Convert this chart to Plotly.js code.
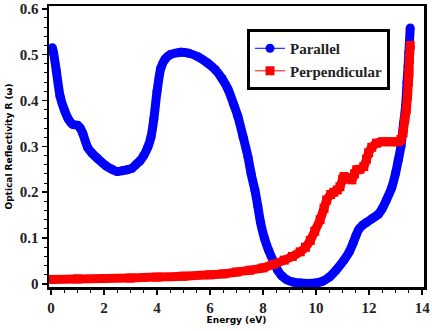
<!DOCTYPE html>
<html>
<head>
<meta charset="utf-8">
<script src="https://cdn.plot.ly/plotly-3.0.1.min.js"></script>
<style>html,body{margin:0;padding:0;background:#fff;}#chart{width:432px;height:331px;}</style>
</head>
<body>
<div id="chart"></div>
<script>
var parallelE = [0.05,0.1,0.2,0.34,0.5,0.65,0.82,1.0,1.1,1.2,1.38,1.55,1.75,2.09,2.3,2.5,2.7,2.87,3.05,3.2,3.35,3.5,3.65,3.77,3.88,4.0,4.14,4.3,4.5,4.9,5.2,5.56,5.9,6.2,6.45,6.68,6.9,7.05,7.25,7.43,7.55,7.69,7.8,7.9,8.05,8.2,8.4,8.55,8.7,8.9,9.15,9.4,9.7,10.0,10.25,10.5,10.75,11.05,11.25,11.4,11.5,11.6,11.75,11.9,12.1,12.35,12.5,12.65,12.85,13.0,13.1,13.2,13.3,13.38,13.43,13.47,13.5,13.55];
var parallelR = [0.515,0.503,0.465,0.41,0.38,0.36,0.348,0.346,0.34,0.328,0.298,0.285,0.274,0.257,0.25,0.245,0.247,0.249,0.252,0.26,0.268,0.28,0.298,0.32,0.36,0.42,0.47,0.49,0.5,0.505,0.503,0.495,0.482,0.467,0.448,0.424,0.39,0.365,0.32,0.277,0.24,0.205,0.17,0.135,0.1,0.075,0.048,0.03,0.018,0.009,0.004,0.002,0.001,0.002,0.006,0.015,0.03,0.052,0.07,0.09,0.105,0.118,0.128,0.134,0.142,0.152,0.165,0.183,0.21,0.242,0.27,0.3,0.35,0.39,0.44,0.475,0.505,0.558];
var perpE = [0,1,2,3,4,5,6,6.5,7,7.5,8.0,8.4,8.8,9.1,9.4,9.6,9.78,9.95,10.15,10.3,10.4,10.55,10.67,10.8,10.9,11.0,11.05,11.2,11.35,11.45,11.53,11.65,11.8,11.9,11.98,12.1,12.28,12.5,12.8,13.1,13.2,13.28,13.35,13.4,13.45,13.48,13.5,13.52,13.55];
var perpR = [0.01,0.011,0.012,0.013,0.015,0.017,0.02,0.022,0.026,0.03,0.035,0.043,0.052,0.06,0.07,0.08,0.095,0.115,0.14,0.165,0.183,0.195,0.2,0.205,0.212,0.228,0.234,0.232,0.227,0.24,0.249,0.25,0.256,0.272,0.286,0.298,0.307,0.31,0.31,0.31,0.315,0.33,0.36,0.38,0.41,0.44,0.46,0.49,0.52];
var names = ['Parallel','Perpendicular'];
var xTicks = [0,2,4,6,8,10,12,14];
var yTicks = [0,0.1,0.2,0.3,0.4,0.5,0.6];

var blue = '#0000ff', red = '#ff0000';
var traces = [
  {x: parallelE, y: parallelR, mode: 'lines', line: {color: blue, width: 9, shape: 'spline', smoothing: 0.6}, showlegend: false, hoverinfo: 'skip'},
  {x: parallelE, y: parallelR, mode: 'lines+markers', name: names[0], line: {color: blue, width: 1, shape: 'spline', smoothing: 0.6}, marker: {color: blue, size: 9, symbol: 'circle'}},
  {x: perpE, y: perpR, mode: 'lines', line: {color: red, width: 9, shape: 'spline', smoothing: 0.6}, showlegend: false, hoverinfo: 'skip'},
  {x: perpE, y: perpR, mode: 'lines+markers', name: names[1], line: {color: red, width: 1, shape: 'spline', smoothing: 0.6}, marker: {color: red, size: 9, symbol: 'square'}}
];
var serif = 'Liberation Serif, Times New Roman, serif';
var tickFont = {family: serif, size: 15, color: '#222', weight: 'bold'};
var titleFont = {family: 'DejaVu Sans', size: 9, color: '#000', weight: 'bold'};
var layout = {
  width: 432, height: 331,
  margin: {l: 49, r: 8, t: 6, b: 44},
  paper_bgcolor: '#fff', plot_bgcolor: '#fff',
  showlegend: true,
  legend: {x: 0.528, y: 0.918, xanchor: 'left', yanchor: 'top', bgcolor: '#fff', bordercolor: '#000', borderwidth: 3,
           font: {family: serif, size: 15, color: '#222', weight: 'bold'}, itemwidth: 30, tracegroupgap: 0},
  xaxis: {range: [-0.075, 14.07], tickvals: xTicks, ticktext: xTicks.map(String), showgrid: false, zeroline: false,
          showline: true, linecolor: '#000', linewidth: 2.5, mirror: true,
          ticks: 'outside', ticklen: 5, tickwidth: 1.5, tickcolor: '#000',
          minor: {dtick: 0.5, ticks: 'outside', ticklen: 3, tickwidth: 1, tickcolor: '#000'},
          tickfont: tickFont, title: {text: 'Energy (eV)', font: titleFont, standoff: 2}},
  yaxis: {range: [-0.0066, 0.606], tickvals: yTicks, ticktext: yTicks.map(String), showgrid: false, zeroline: false,
          showline: true, linecolor: '#000', linewidth: 2.5, mirror: true,
          ticks: 'outside', ticklen: 5, tickwidth: 1.5, tickcolor: '#000',
          minor: {dtick: 0.02, ticks: 'outside', ticklen: 3, tickwidth: 1, tickcolor: '#000'},
          tickfont: tickFont, title: {text: 'Optical Reflectivity R (ω)', font: titleFont, standoff: 6}}
};
Plotly.newPlot('chart', traces, layout, {displayModeBar: false, staticPlot: true});
</script>
</body>
</html>
